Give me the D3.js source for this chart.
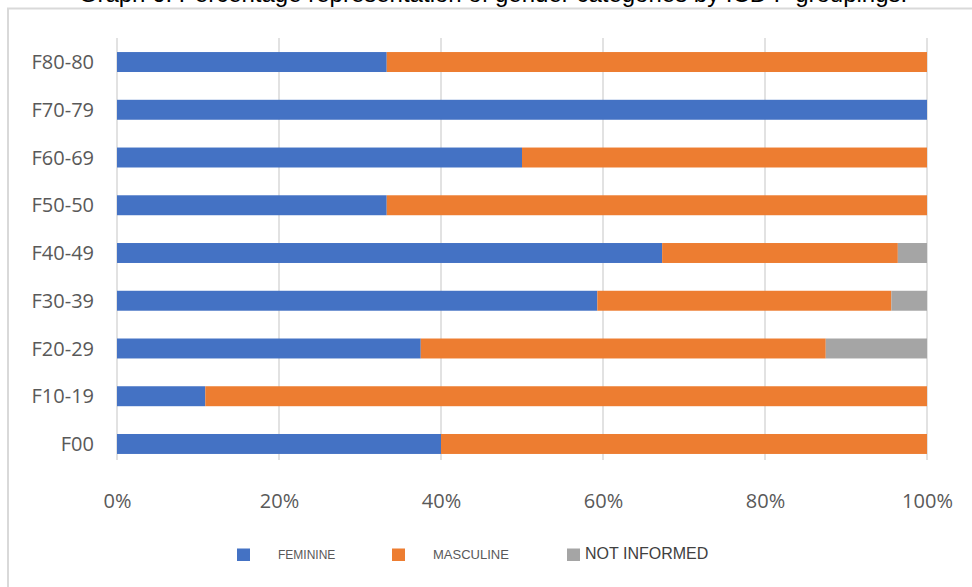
<!DOCTYPE html>
<html>
<head>
<meta charset="utf-8">
<script src="https://cdnjs.cloudflare.com/ajax/libs/d3/7.8.5/d3.min.js"></script>
<style>
  body { margin: 0; background: #fff; }
  svg { display: block; }
</style>
</head>
<body>
<svg id="svg_stack" width="972" height="587"></svg>
<script>
// Data (percentages per ICD F grouping)
var categories = ["F80-80", "F70-79", "F60-69", "F50-50", "F40-49", "F30-39", "F20-29", "F10-19", "F00"];
var feminine    = [33.3, 100, 50, 33.3, 67.3, 59.3, 37.5, 10.9, 40];
var masculine   = [66.7, 0, 50, 66.7, 29.1, 36.3, 50, 89.1, 60];
var notInformed = [0, 0, 0, 0, 3.6, 4.4, 12.5, 0, 0];
var seriesNames = ["FEMININE", "MASCULINE", "NOT INFORMED"];
var xTicks = [0, 20, 40, 60, 80, 100];

var svg = d3.select("#svg_stack");

var colours = d3.scaleOrdinal()
    .domain(seriesNames)
    .range(["#4472c4", "#ed7d31", "#a5a5a5"]);

var data = categories.map(function(c, i) {
  return {cat: c, "FEMININE": feminine[i], "MASCULINE": masculine[i], "NOT INFORMED": notInformed[i]};
});

var stacked = d3.stack().keys(seriesNames)(data);

// Scales
var x = d3.scaleLinear()
    .domain([0, 100])
    .range([117, 927]);

var y = d3.scaleBand()
    .domain(categories)
    .range([42.5, 463.5])
    .paddingInner(0.582)
    .paddingOuter(0.2);

// Title (partly cut off at the top)
svg.append("text")
    .attr("x", 493)
    .attr("y", 2)
    .attr("text-anchor", "middle")
    .attr("font-family", "'Liberation Sans', Arial, sans-serif")
    .attr("font-size", "24px")
    .attr("fill", "#000")
    .text("Graph 6: Percentage representation of gender categories by ICD F groupings.");

// Chart frame (top and left edges visible)
svg.append("path")
    .attr("d", "M8,587V8.5H972")
    .attr("fill", "none")
    .attr("stroke", "#d9d9d9")
    .attr("stroke-width", 2);

// Gridlines
svg.append("g")
    .selectAll("line")
    .data(xTicks)
    .enter().append("line")
      .attr("x1", function(d) { return x(d); })
      .attr("x2", function(d) { return x(d); })
      .attr("y1", 38)
      .attr("y2", 460)
      .attr("stroke", "#d9d9d9")
      .attr("stroke-width", 1.5);

// Bars
svg.append("g")
    .selectAll("g")
    .data(stacked)
    .enter().append("g")
      .attr("fill", function(d) { return colours(d.key); })
    .selectAll("rect")
    .data(function(d) { return d; })
    .enter().append("rect")
      .attr("x", function(d) { return x(d[0]); })
      .attr("y", function(d) { return y(d.data.cat); })
      .attr("width", function(d) { return x(d[1]) - x(d[0]); })
      .attr("height", y.bandwidth());

// X axis labels
var xAxis = svg.append("g")
    .attr("transform", "translate(0,460)")
    .call(d3.axisBottom(x).tickValues(xTicks).tickSize(0).tickPadding(0)
      .tickFormat(function(d) { return d + "%"; }));
xAxis.select(".domain").remove();
xAxis.selectAll("text")
    .attr("y", 48)
    .attr("dy", 0)
    .attr("fill", "#595959")
    .attr("font-family", "'Open Sans', sans-serif")
    .attr("font-size", "20px");

// Y axis labels
var yAxis = svg.append("g")
    .attr("transform", "translate(117,0)")
    .call(d3.axisLeft(y).tickSize(0).tickPadding(23));
yAxis.select(".domain").remove();
yAxis.selectAll("text")
    .attr("dy", "0.36em")
    .attr("fill", "#595959")
    .attr("font-family", "'Open Sans', sans-serif")
    .attr("font-size", "20px");

// Legend
var legendX = [237, 392, 567];
var labelX = [278, 433, 585];
var labelSize = [12, 13, 16];
var labelFill = ["#595959", "#595959", "#404040"];

var legend = svg.append("g")
    .attr("font-family", "'Liberation Sans', Arial, sans-serif")
    .selectAll("g")
    .data(seriesNames)
    .enter().append("g");

legend.append("rect")
    .attr("x", function(d, i) { return legendX[i]; })
    .attr("y", 548.5)
    .attr("width", 13)
    .attr("height", 12.5)
    .attr("fill", colours);

legend.append("text")
    .attr("x", function(d, i) { return labelX[i]; })
    .attr("y", 558.5)
    .attr("font-size", function(d, i) { return labelSize[i] + "px"; })
    .attr("fill", function(d, i) { return labelFill[i]; })
    .text(function(d) { return d; });
</script>
</body>
</html>
